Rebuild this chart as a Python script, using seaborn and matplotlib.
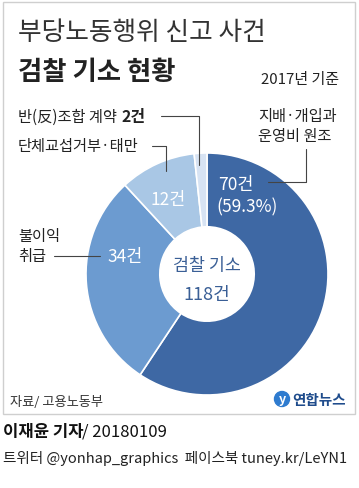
import matplotlib
matplotlib.use("Agg")
import matplotlib.pyplot as plt
import seaborn as sns
from matplotlib.patches import Rectangle, Circle

# data
categories = ["지배·개입과 운영비 원조", "불이익 취급", "단체교섭거부·태만", "반(反)조합 계약"]
counts = [70, 34, 12, 2]
total = sum(counts)
colors = ["#3E68A4", "#6C9BD0", "#A9C7E5", "#D7E3F3"]

sns.set_theme(style="white")
plt.rcParams['font.family'] = ['Noto Sans CJK KR', 'DejaVu Sans']

W, H = 359, 489
fig = plt.figure(figsize=(W / 100, H / 100), dpi=100)
fig.patch.set_facecolor("white")

# donut, centre (207, 275) px, radius 121 px
cx, cy, r = 207, 275, 121
pie_ax = fig.add_axes([(cx - r) / W, (H - cy - r) / H, 2 * r / W, 2 * r / H])
pie_ax.pie(counts, colors=colors, startangle=90, counterclock=False, radius=1,
           wedgeprops=dict(width=0.61, edgecolor="white", linewidth=1.2))
pie_ax.set_xlim(-1, 1)
pie_ax.set_ylim(-1, 1)
pie_ax.set_aspect("equal")
pie_ax.axis("off")

# overlay in pixel coordinates
ax = fig.add_axes([0, 0, 1, 1], zorder=5)
ax.set_xlim(0, W)
ax.set_ylim(H, 0)
ax.axis("off")
ax.patch.set_alpha(0)

ax.add_patch(Rectangle((3, 3), 352, 412, fill=False, edgecolor="#cfcfcf", linewidth=1))

ax.text(18, 33, "부당노동행위 신고 사건", fontsize=18.5, weight="light", color="#333333", va="center")
ax.text(18, 72, "검찰 기소 현황", fontsize=19, weight="bold", color="#222222", va="center")
ax.text(339, 80, "2017년 기준", fontsize=10.8, color="#222222", va="center", ha="right")

ax.text(18, 117, "반(反)조합 계약 ", fontsize=11, color="#222222", va="center")
ax.text(122, 117, f"{counts[3]}건", fontsize=11.5, weight="bold", color="#222222", va="center")
ax.text(18, 147, "단체교섭거부·태만", fontsize=11, color="#222222", va="center")
ax.text(258, 117, "지배·개입과", fontsize=11, color="#222222", va="center")
ax.text(258, 137, "운영비 원조", fontsize=11, color="#222222", va="center")
ax.text(18, 237, "불이익", fontsize=11, color="#222222", va="center")
ax.text(18, 257, "취급", fontsize=11, color="#222222", va="center")

lc = dict(color="#444444", linewidth=0.8)
ax.plot([161, 199, 199], [117, 117, 166], **lc)
ax.plot([152, 166, 166], [147, 147, 172], **lc)
ax.plot([306, 306, 268], [150, 183, 183], **lc)
ax.plot([54, 100], [257, 257], **lc)

ax.text(218, 185, f"{counts[0]}건", fontsize=12.5, color="white", va="center")
ax.text(216, 207, f"({counts[0] / total * 100:.1f}%)", fontsize=12.5, color="white", va="center")
ax.text(151, 200, f"{counts[2]}건", fontsize=12.5, color="white", va="center")
ax.text(107, 257, f"{counts[1]}건", fontsize=12.5, color="white", va="center")

ax.text(cx, 266, "검찰 기소", fontsize=12.5, color="#3A5F96", ha="center", va="center")
ax.text(cx, 295, f"{total}건", fontsize=13, color="#3A5F96", ha="center", va="center")

ax.text(10, 402, "자료/ 고용노동부", fontsize=9.5, color="#333333", va="center", style="italic")
ax.add_patch(Circle((282, 400), 7.5, color="#2E7BCF"))
ax.text(282, 400, "y", fontsize=9, color="white", ha="center", va="center", weight="bold")
ax.text(292, 400, "연합뉴스", fontsize=10.5, weight="bold", color="#1F4C8C", va="center")

ax.text(3, 432, "이재윤 기자", fontsize=12, weight="bold", color="#111111", va="center")
ax.text(82, 432, "/ 20180109", fontsize=12, color="#111111", va="center")
ax.text(3, 459, "트위터 @yonhap_graphics  페이스북 tuney.kr/LeYN1", fontsize=10.5,
        color="#222222", va="center")

fig.savefig("out.png", dpi=100)
